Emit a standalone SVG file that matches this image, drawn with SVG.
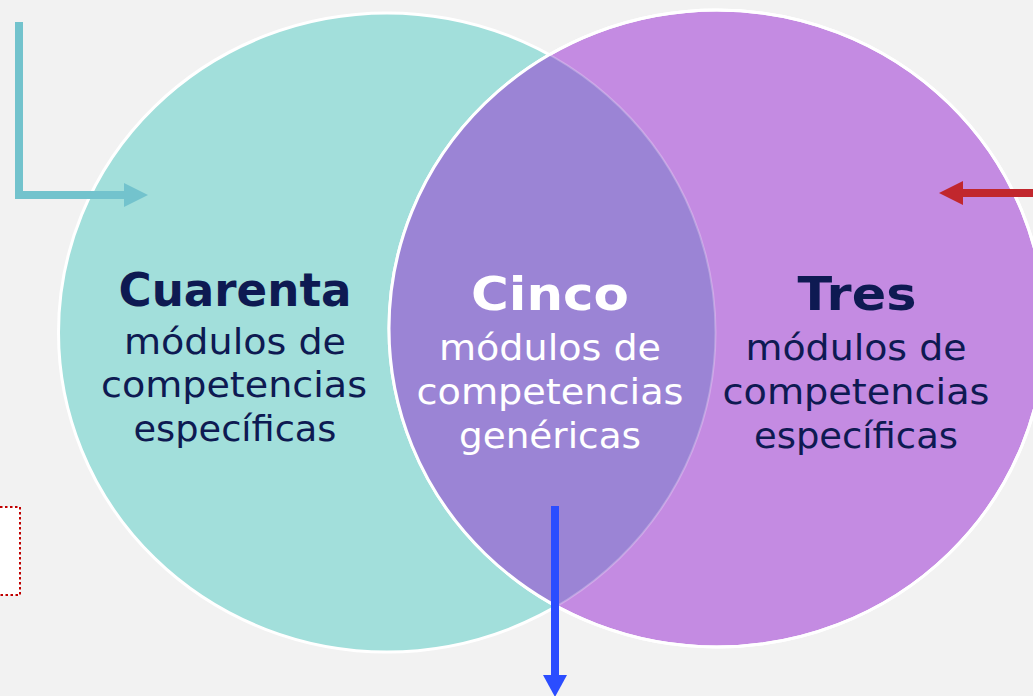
<svg xmlns="http://www.w3.org/2000/svg" width="1033" height="696" viewBox="0 0 1033 696">
<style>
.t{font-family:"DejaVu Sans","Liberation Sans",sans-serif;text-anchor:middle}
.h{font-size:47px;font-weight:bold}
.b{font-size:36px}
.dk{fill:#0E1A52}
.wh{fill:#FFFFFF}
.arr{fill:none;stroke-width:8}
</style>
<defs>
<clipPath id="rc"><ellipse cx="717" cy="328.5" rx="328" ry="318.5"/></clipPath>
</defs>
<rect x="0" y="0" width="1033" height="696" fill="#F2F2F2"/>
<rect x="-10" y="507" width="30" height="88" fill="#FFFFFF" stroke="#C00000" stroke-width="2" stroke-dasharray="2.5,2.5"/>
<g id="left-circle">
<ellipse cx="387" cy="332.5" rx="328.5" ry="319.5" fill="#A2DFDB" stroke="#FFFFFF" stroke-width="3"/>
</g>
<g id="right-circle">
<ellipse cx="717" cy="328.5" rx="328" ry="318.5" fill="#C48BE2" stroke="#FFFFFF" stroke-width="3"/>
</g>
<g id="overlap">
<ellipse cx="387" cy="332.5" rx="328.5" ry="319.5" fill="#9B84D5" clip-path="url(#rc)"/>
<ellipse cx="387" cy="332.5" rx="328.5" ry="319.5" fill="none" stroke="#FFFFFF" stroke-opacity="0.25" stroke-width="2" clip-path="url(#rc)"/>
<ellipse cx="717" cy="328.5" rx="328" ry="318.5" fill="none" stroke="#FFFFFF" stroke-width="3"/>
</g>
<g id="left-text">
<text class="t h dk" x="235" y="306" textLength="233" lengthAdjust="spacingAndGlyphs">Cuarenta</text>
<text class="t b dk" x="235" y="354" textLength="222" lengthAdjust="spacingAndGlyphs">módulos de</text>
<text class="t b dk" x="234" y="397" textLength="266" lengthAdjust="spacingAndGlyphs">competencias</text>
<text class="t b dk" x="235" y="441" textLength="203" lengthAdjust="spacingAndGlyphs">específicas</text>
</g>
<g id="center-text">
<text class="t h wh" x="550" y="310" textLength="158" lengthAdjust="spacingAndGlyphs">Cinco</text>
<text class="t b wh" x="550" y="360" textLength="222" lengthAdjust="spacingAndGlyphs">módulos de</text>
<text class="t b wh" x="550" y="404" textLength="267" lengthAdjust="spacingAndGlyphs">competencias</text>
<text class="t b wh" x="550" y="448" textLength="182" lengthAdjust="spacingAndGlyphs">genéricas</text>
</g>
<g id="right-text">
<text class="t h dk" x="857" y="310" textLength="119" lengthAdjust="spacingAndGlyphs">Tres</text>
<text class="t b dk" x="856" y="360" textLength="221" lengthAdjust="spacingAndGlyphs">módulos de</text>
<text class="t b dk" x="856" y="404" textLength="267" lengthAdjust="spacingAndGlyphs">competencias</text>
<text class="t b dk" x="856" y="448" textLength="204" lengthAdjust="spacingAndGlyphs">específicas</text>
</g>
<g id="connectors">
<polyline class="arr" points="19,22 19,195 125,195" stroke="#73C3CD" stroke-linejoin="miter"/>
<polygon points="124,183 148,195 124,207" fill="#73C3CD"/>
<line class="arr" x1="1040" y1="193" x2="962" y2="193" stroke="#C1272D"/>
<polygon points="963,181 939,193 963,205" fill="#C1272D"/>
<line class="arr" x1="555" y1="506" x2="555" y2="676" stroke="#2B4DFF"/>
<polygon points="543,675 567,675 555,697" fill="#2B4DFF"/>
</g>
</svg>
